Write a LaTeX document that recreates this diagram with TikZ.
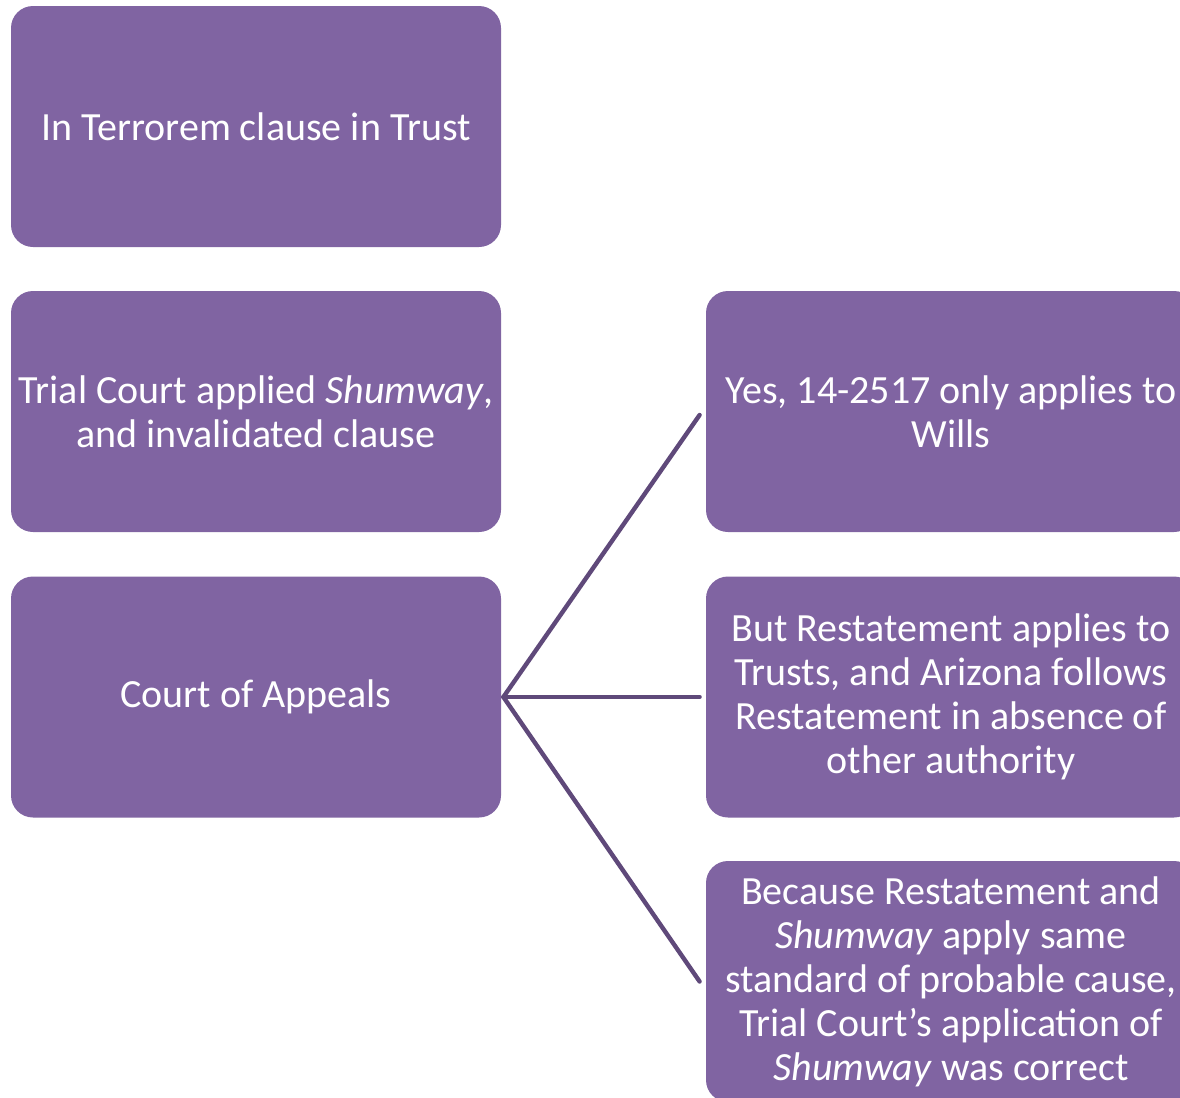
\documentclass[tikz,border=0pt]{standalone}
\usepackage{fontspec}
\setmainfont{Carlito}
\definecolor{lavender}{HTML}{8064A2}
\definecolor{plum}{HTML}{5F497A}
\begin{document}
\begin{tikzpicture}[x=.5pt,y=-.5pt, line join=round, line cap=round,
	box/.style={fill=lavender, rounded corners=11pt, minimum width=245pt, minimum height=120.5pt,
		text=white, align=center, inner sep=0pt, font=\fontsize{20}{22}\selectfont},
	link/.style={draw=plum, line width=2.2pt}]
	\useasboundingbox (0,0) rectangle (1180,1098);
	\clip (0,0) rectangle (1180,1098);
	\path
	(256,126.5) node[box] (clause) {In Terrorem clause in Trust}
	(256,411.5) node[box] (trial) {Trial Court applied \textit{Shumway},\\ and invalidated clause}
	(256,697) node[box] (appeals) {Court of Appeals}
	(951,411.5) node[box] (wills) {Yes, 14-2517 only applies to\\ Wills}
	(951,697) node[box] (restate) {But Restatement applies to\\ Trusts, and Arizona follows\\ Restatement in absence of\\ other authority}
	(951,981.5) node[box] (correct) {Because Restatement and\\ \textit{Shumway} apply same\\ standard of probable cause,\\ Trial Court's application of\\ \textit{Shumway} was correct};
	\draw[link] ([xshift=1pt]appeals.east) -- ([xshift=-3pt,yshift=-1.75pt]wills.west);
	\draw[link] ([xshift=1pt]appeals.east) -- ([xshift=-3pt]restate.west);
	\draw[link] ([xshift=1pt]appeals.east) -- ([xshift=-3pt]correct.west);
\end{tikzpicture}
\end{document}
